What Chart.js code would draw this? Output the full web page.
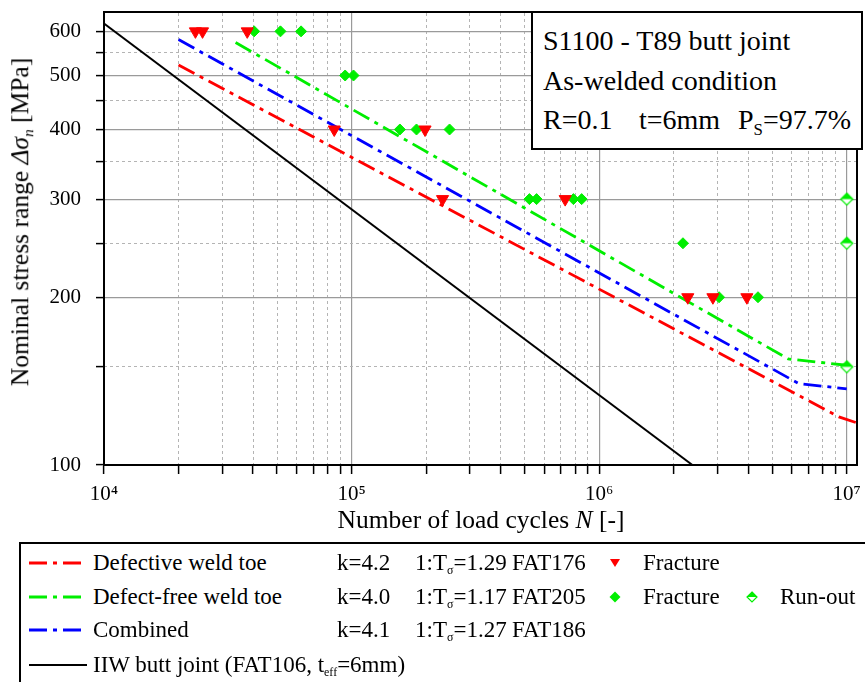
<!DOCTYPE html>
<html>
<head>
<meta charset="utf-8">
<title>S1100 - T89 butt joint, S-N diagram</title>
<script src="https://cdn.jsdelivr.net/npm/chart.js@4.4.0/dist/chart.umd.min.js"></script>
<style>
    html, body { margin: 0; padding: 0; background: #fff; overflow: hidden; }
    body { position: relative; width: 865px; height: 682px; color: #000;
           font-family: "Liberation Serif", "DejaVu Serif", serif; }
    #chartBox { position: absolute; left: 0; top: 0; width: 865px; height: 540px; }
    .yTitle { position: absolute; left: 19.7px; top: 222px; font-size: 25.5px; line-height: 1;
              white-space: nowrap; transform: translate(-50%, -50%) rotate(-90deg); }
    .xTitle { position: absolute; left: 481px; top: 504.6px; font-size: 25.5px; line-height: 30px;
              white-space: nowrap; transform: translateX(-50%); }
    .sub { font-size: 0.6em; vertical-align: -0.35em; line-height: 0; }
    #infoBox { position: absolute; left: 531px; top: 11px; width: 332px; height: 139px;
               box-sizing: border-box; border: 2px solid #000; background: #fff; font-size: 28px; }
    #infoBox div { position: absolute; left: 10px; line-height: 39px; white-space: nowrap; }
    #infoBox span { position: absolute; top: 0; white-space: nowrap; }
    #legend { position: absolute; left: 19px; top: 542px; width: 900px; height: 200px;
              box-sizing: border-box; border: 2px solid #000; background: #fff; font-size: 23px; }
    #legend .sub { font-size: 0.52em; }
    .row { position: absolute; left: 0; height: 34px; width: 100%; line-height: 34px; }
    .row > * { position: absolute; top: 0; white-space: nowrap; }
    .row svg { top: 11px; }
</style>
</head>
<body>
<div id="chartBox"><canvas id="snChart" width="865" height="540"></canvas></div>
<div class="yTitle">Nominal stress range <i>&Delta;&sigma;<span class="sub">n</span></i> [MPa]</div>
<div class="xTitle">Number of load cycles <i>N</i> [-]</div>
<div id="infoBox">
    <div style="top: 8px;">S1100 - T89 butt joint</div>
    <div style="top: 48px;">As-welded condition</div>
    <div style="top: 87px; width: 320px;">
        <span style="left: 0;">R=0.1</span>
        <span style="left: 96px;">t=6mm</span>
        <span style="left: 195px;">P<span class="sub" style="position: static;">S</span>=97.7%</span>
    </div>
</div>
<div id="legend"></div>

<script>
// Axis ranges and ticks
const xMin = 1e4, xMax = 1.1e7;
const yMin = 100, yMax = 650;
const xMajorTicks = [1e4, 1e5, 1e6, 1e7];
const xTickLabels = ['10\u2074', '10\u2075', '10\u2076', '10\u2077'];
const xMinorFactors = [2, 3, 4, 5, 6, 7, 8, 9];
const yMajorTicks = [100, 200, 300, 400, 500, 600];
const yMinorTicks = [150, 250, 350, 450, 550];

// S-N curves (N, stress range)
const defectiveN = [2.0e4, 9.3e6, 1.1e7];
const defectiveS = [522, 122, 119];
const defectFreeN = [3.4e4, 5.8e6, 1.0e7];
const defectFreeS = [573, 155, 151];
const combinedN = [2.0e4, 6.4e6, 1.0e7];
const combinedS = [580, 140, 137];
const iiwN = [1.0e4, 2.38e6];
const iiwS = [620, 100];

// Test results
const defectiveFractureN = [23400, 25000, 37900, 85100, 198000, 233000, 729000, 2.28e6, 2.88e6, 3.95e6];
const defectiveFractureS = [600, 600, 600, 400, 400, 300, 300, 200, 200, 200];
const defectFreeFractureN = [40400, 51600, 62500, 94200, 101800, 156700, 182900, 248700,
                             522800, 558700, 787000, 849800, 2.18e6, 3.05e6, 4.38e6];
const defectFreeFractureS = [600, 600, 600, 500, 500, 400, 400, 400, 300, 300, 300, 300, 250, 200, 200];
const runoutN = [1e7, 1e7, 1e7];
const runoutS = [300, 250, 150];

// Legend texts
const curveNames = ['Defective weld toe', 'Defect-free weld toe', 'Combined'];
const curveK = ['4.2', '4.0', '4.1'];
const curveTsigma = ['1.29', '1.17', '1.27'];
const curveFat = ['FAT176', 'FAT205', 'FAT186'];
const iiwName = 'IIW butt joint (FAT106, t<span class="sub">eff</span>=6mm)';

const RED = '#ff0000', GREEN = '#00ee00', BLUE = '#0000ff', BLACK = '#000000';
const curveColors = [RED, GREEN, BLUE];
const DASH_DOT = [18, 6, 4, 6];
const FONT = "'Liberation Serif', 'DejaVu Serif', serif";

const xMinorTicks = [];
for (let e = 4; e <= 6; e++) {
    xMinorFactors.forEach(f => xMinorTicks.push(f * Math.pow(10, e)));
}
const xAllTicks = xMajorTicks.concat(xMinorTicks).sort((a, b) => a - b);
const yAllTicks = yMajorTicks.concat(yMinorTicks).sort((a, b) => a - b);

function toPoints(xs, ys) {
    return xs.map((x, i) => ({ x: x, y: ys[i] }));
}

// Fixed axis size, and no extra room for the outer labels
function fixSize(width, height) {
    return scale => {
        if (width !== null) scale.width = width;
        if (height !== null) scale.height = height;
        scale.paddingTop = 0;
        scale.paddingBottom = 0;
        scale.paddingLeft = 0;
        scale.paddingRight = 0;
    };
}

// Half filled diamond used for run-outs
function makeRunoutMarker() {
    const c = document.createElement('canvas');
    c.width = 15;
    c.height = 15;
    const g = c.getContext('2d');
    const m = 7.5, r = 6;
    g.fillStyle = '#fff';
    g.beginPath();
    g.moveTo(m, m - r); g.lineTo(m + r, m); g.lineTo(m, m + r); g.lineTo(m - r, m);
    g.closePath();
    g.fill();
    g.fillStyle = GREEN;
    g.beginPath();
    g.moveTo(m - r, m); g.lineTo(m, m - r); g.lineTo(m + r, m);
    g.closePath();
    g.fill();
    g.strokeStyle = GREEN;
    g.lineWidth = 1.2;
    g.beginPath();
    g.moveTo(m, m - r); g.lineTo(m + r, m); g.lineTo(m, m + r); g.lineTo(m - r, m);
    g.closePath();
    g.stroke();
    return c;
}

function curveDataset(label, xs, ys, color, dash) {
    return {
        label: label,
        data: toPoints(xs, ys),
        showLine: true,
        fill: false,
        tension: 0,
        pointRadius: 0,
        borderColor: color,
        borderWidth: dash ? 2.8 : 2,
        borderDash: dash || [],
        borderCapStyle: 'butt'
    };
}

const datasets = [
    {
        label: 'Fracture (defective weld toe)',
        data: toPoints(defectiveFractureN, defectiveFractureS),
        pointStyle: 'triangle',
        rotation: 180,
        pointRadius: 7,
        backgroundColor: RED,
        borderColor: RED,
        borderWidth: 1
    },
    {
        label: 'Fracture (defect-free weld toe)',
        data: toPoints(defectFreeFractureN, defectFreeFractureS),
        pointStyle: 'rectRot',
        pointRadius: 5.5,
        backgroundColor: GREEN,
        borderColor: GREEN,
        borderWidth: 1
    },
    {
        label: 'Run-out',
        data: toPoints(runoutN, runoutS),
        pointStyle: makeRunoutMarker(),
        pointRadius: 7
    },
    curveDataset(curveNames[0], defectiveN, defectiveS, RED, DASH_DOT),
    curveDataset(curveNames[1], defectFreeN, defectFreeS, GREEN, DASH_DOT),
    curveDataset(curveNames[2], combinedN, combinedS, BLUE, DASH_DOT),
    curveDataset('IIW butt joint', iiwN, iiwS, BLACK, null)
];

const ctx = document.getElementById('snChart').getContext('2d');
const chart = new Chart(ctx, {
    type: 'scatter',
    data: { datasets: datasets },
    options: {
        responsive: false,
        animation: false,
        layout: { padding: { left: 0, top: 12, right: 3, bottom: 0 } },
        plugins: {
            legend: { display: false },
            tooltip: { enabled: false }
        },
        scales: {
            x: {
                type: 'logarithmic',
                position: 'bottom',
                min: xMin,
                max: xMax,
                afterFit: fixSize(null, 75),
                afterBuildTicks: s => { s.ticks = xAllTicks.map(v => ({ value: v })); },
                ticks: {
                    autoSkip: false,
                    maxRotation: 0,
                    padding: 8,
                    color: '#000',
                    font: { family: FONT, size: 21 },
                    callback: v => {
                        const i = xMajorTicks.indexOf(v);
                        return i >= 0 ? xTickLabels[i] : '';
                    }
                },
                grid: {
                    color: c => (c.tick && xMajorTicks.includes(c.tick.value)) ? '#9a9a9a' : 'rgba(0,0,0,0)',
                    lineWidth: 1.2,
                    tickColor: '#000',
                    tickWidth: 1.5,
                    tickLength: 9
                },
                border: { color: '#000', width: 2 }
            },
            x2: {
                type: 'logarithmic',
                position: 'top',
                min: xMin,
                max: xMax,
                afterFit: fixSize(null, 0),
                afterBuildTicks: s => { s.ticks = xMinorTicks.map(v => ({ value: v })); },
                ticks: { display: false, autoSkip: false },
                grid: { color: '#b4b4b4', lineWidth: 1, drawTicks: false },
                border: { color: '#000', width: 2, dash: [3, 3] }
            },
            y: {
                type: 'logarithmic',
                position: 'left',
                min: yMin,
                max: yMax,
                afterFit: fixSize(104, null),
                afterBuildTicks: s => { s.ticks = yAllTicks.map(v => ({ value: v })); },
                ticks: {
                    autoSkip: false,
                    padding: 15,
                    color: '#000',
                    font: { family: FONT, size: 21 },
                    callback: v => yMajorTicks.includes(v) ? String(v) : ''
                },
                grid: {
                    color: c => (c.tick && yMajorTicks.includes(c.tick.value)) ? '#9a9a9a' : 'rgba(0,0,0,0)',
                    lineWidth: 1.2,
                    tickColor: '#000',
                    tickWidth: 1.5,
                    tickLength: 8
                },
                border: { color: '#000', width: 2 }
            },
            y2: {
                type: 'logarithmic',
                position: 'right',
                min: yMin,
                max: yMax,
                afterFit: fixSize(0, null),
                afterBuildTicks: s => { s.ticks = yMinorTicks.map(v => ({ value: v })); },
                ticks: { display: false, autoSkip: false },
                grid: { color: '#b4b4b4', lineWidth: 1, drawTicks: false },
                border: { color: '#000', width: 2, dash: [3, 3] }
            }
        }
    }
});

// Legend below the chart
function lineSample(color, dash) {
    const d = dash ? ' stroke-dasharray="' + dash.join(' ') + '"' : '';
    return '<svg width="58" height="12" style="left:8px"><line x1="0" y1="6" x2="58" y2="6" stroke="' +
        color + '" stroke-width="' + (dash ? 2.8 : 2) + '"' + d + '/></svg>';
}

function markerSvg(kind, left) {
    let shape = '';
    if (kind === 'triangle') {
        shape = '<polygon points="1,2 11,2 6,10" fill="' + RED + '"/>';
    } else if (kind === 'diamond') {
        shape = '<polygon points="6,0.5 11.5,6 6,11.5 0.5,6" fill="' + GREEN + '"/>';
    } else {
        shape = '<polygon points="6,1 11,6 6,11 1,6" fill="#fff" stroke="' + GREEN + '" stroke-width="1.2"/>' +
                '<polygon points="1,6 6,1 11,6" fill="' + GREEN + '"/>';
    }
    return '<svg width="12" height="12" style="left:' + (left - 6) + 'px">' + shape + '</svg>';
}

const legend = document.getElementById('legend');
const rowTops = [2, 36, 69, 104];
let html = '';
curveNames.forEach((name, i) => {
    html += '<div class="row" style="top:' + rowTops[i] + 'px">' +
        lineSample(curveColors[i], DASH_DOT) +
        '<span style="left:72px">' + name + '</span>' +
        '<span style="left:316px">k=' + curveK[i] + '</span>' +
        '<span style="left:394px">1:T<span class="sub">&sigma;</span>=' + curveTsigma[i] + '</span>' +
        '<span style="left:491px">' + curveFat[i] + '</span>';
    if (i === 0) {
        html += markerSvg('triangle', 594) + '<span style="left:622px">Fracture</span>';
    } else if (i === 1) {
        html += markerSvg('diamond', 594) + '<span style="left:622px">Fracture</span>' +
                markerSvg('runout', 731) + '<span style="left:759px">Run-out</span>';
    }
    html += '</div>';
});
html += '<div class="row" style="top:' + rowTops[3] + 'px">' + lineSample(BLACK, null) +
        '<span style="left:72px">' + iiwName + '</span></div>';
legend.innerHTML = html;
</script>
</body>
</html>
